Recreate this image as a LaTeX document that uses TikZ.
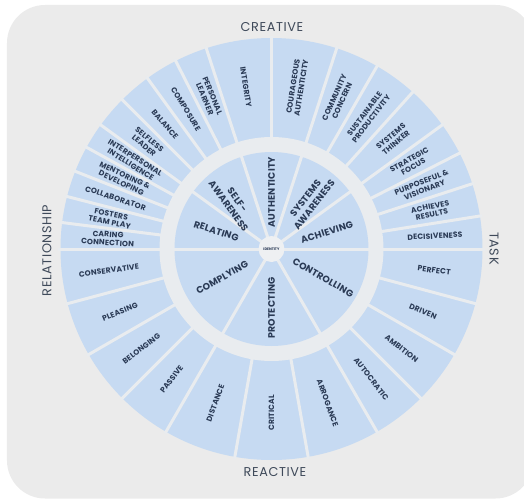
\documentclass[tikz,border=0pt]{standalone}
\usepackage{fontspec}
\setmainfont{Poppins}
\definecolor{bggray}{HTML}{EBEBEB}
\definecolor{gapc}{HTML}{E9ECEF}
\definecolor{segblue}{HTML}{C6DAF2}
\definecolor{txt}{HTML}{2A3A55}
\definecolor{catc}{HTML}{3F4A5A}
\definecolor{idc}{HTML}{EEF0F2}
\begin{document}
\begin{tikzpicture}[x=1pt,y=1pt,
  olab/.style={text=txt, font=\bfseries\fontsize{7.6}{8.3}\selectfont\addfontfeature{LetterSpace=2}, align=center, inner sep=0pt},
  ilab/.style={text=txt, font=\bfseries\fontsize{9.4}{11}\selectfont\addfontfeature{LetterSpace=2}, align=center, inner sep=0pt},
  catlab/.style={text=catc, font=\fontsize{12.8}{14}\selectfont\addfontfeature{LetterSpace=5}, inner sep=0pt},
  sepline/.style={draw=gapc, line width=3pt},
]
\clip (-271.5,-249) rectangle (252.5,249);
\fill[bggray, rounded corners=38pt] (-264.5,244) rectangle (262,-249.5);
% wheel
\fill[segblue] (0,0) circle (211pt);
\fill[gapc] (0,0) circle (112pt);
\fill[segblue] (0,0) circle (97pt);
\foreach \a in {0,9,18,27,36,48,60,72,90,108,117,126,135,144,151.2,158.4,165.6,172.8,180,195,210,225,240,260,280,300,315,330,345}
  \draw[sepline] (\a:110pt) -- (\a:213pt);
\foreach \a in {0,36,72,108,144,180,240,300}
  \draw[sepline] (0,0) -- (\a:99pt);
\fill[idc] (0,0) circle (13pt);
\node[text=txt, font=\bfseries\fontsize{3.6}{4}\selectfont, inner sep=0pt] (identity) at (0,0) {IDENTITY};
% inner labels
\node[ilab, rotate=-18] (relating) at (162:58pt) {RELATING};
\node[ilab, rotate=-54] (selfaw) at (130:60pt) {SELF-\\AWARENESS};
\node[ilab, rotate=90] (authent) at (90:57pt) {AUTHENTICITY};
\node[ilab, rotate=52] (sysaw) at (51:61pt) {SYSTEMS\\AWARENESS};
\node[ilab, rotate=18] (achieving) at (17:58pt) {ACHIEVING};
\node[ilab, rotate=30] (complying) at (210:57pt) {COMPLYING};
\node[ilab, rotate=90] (protecting) at (270:59pt) {PROTECTING};
\node[ilab, rotate=-30] (controlling) at (331:59pt) {CONTROLLING};
% outer labels
\foreach \a/\r/\t [count=\i] in {
  4.5/3/DECISIVENESS, 13.5/12/{ACHIEVES\\RESULTS}, 22.5/21/{PURPOSEFUL \&\\VISIONARY},
  31.5/30/{STRATEGIC\\FOCUS}, 42/40/{SYSTEMS\\THINKER}, 54/53/{SUSTAINABLE\\PRODUCTIVITY},
  66/66/{COMMUNITY\\CONCERN}, 81/81/{COURAGEOUS\\AUTHENTICITY}, 99/-81/INTEGRITY,
  112.5/-67.5/{PERSONAL\\LEARNER}, 121.5/-58.5/COMPOSURE, 130.5/-49.5/BALANCE,
  139.5/-40.5/{SELFLESS\\LEADER}, 147.6/-32.4/{INTERPERSONAL\\INTELLIGENCE},
  154.8/-25.2/{MENTORING \&\\DEVELOPING}, 162/-18/COLLABORATOR, 169.2/-10.8/{FOSTERS\\TEAM PLAY},
  176.4/-3.6/{CARING\\CONNECTION},
  187.5/7.5/CONSERVATIVE, 202.5/22.5/PLEASING, 217.5/37.5/BELONGING, 232.5/52.5/PASSIVE,
  250/70/DISTANCE, 270/90/CRITICAL, 290/-70/ARROGANCE, 307.5/-52.5/AUTOCRATIC,
  322.5/-37.5/AMBITION, 337.5/-22.5/DRIVEN, 352.5/-7.5/PERFECT}
  \node[olab, rotate=\r] (out\i) at (\a:164pt) {\t};
% category labels
\node[catlab] (creative) at (0.5,222) {CREATIVE};
\node[catlab] (reactive) at (3.5,-223) {REACTIVE};
\node[catlab, rotate=-90] (task) at (222.5,0.5) {TASK};
\node[catlab, rotate=90] (relationship) at (-224.5,-1.5) {RELATIONSHIP};
\end{tikzpicture}
\end{document}
